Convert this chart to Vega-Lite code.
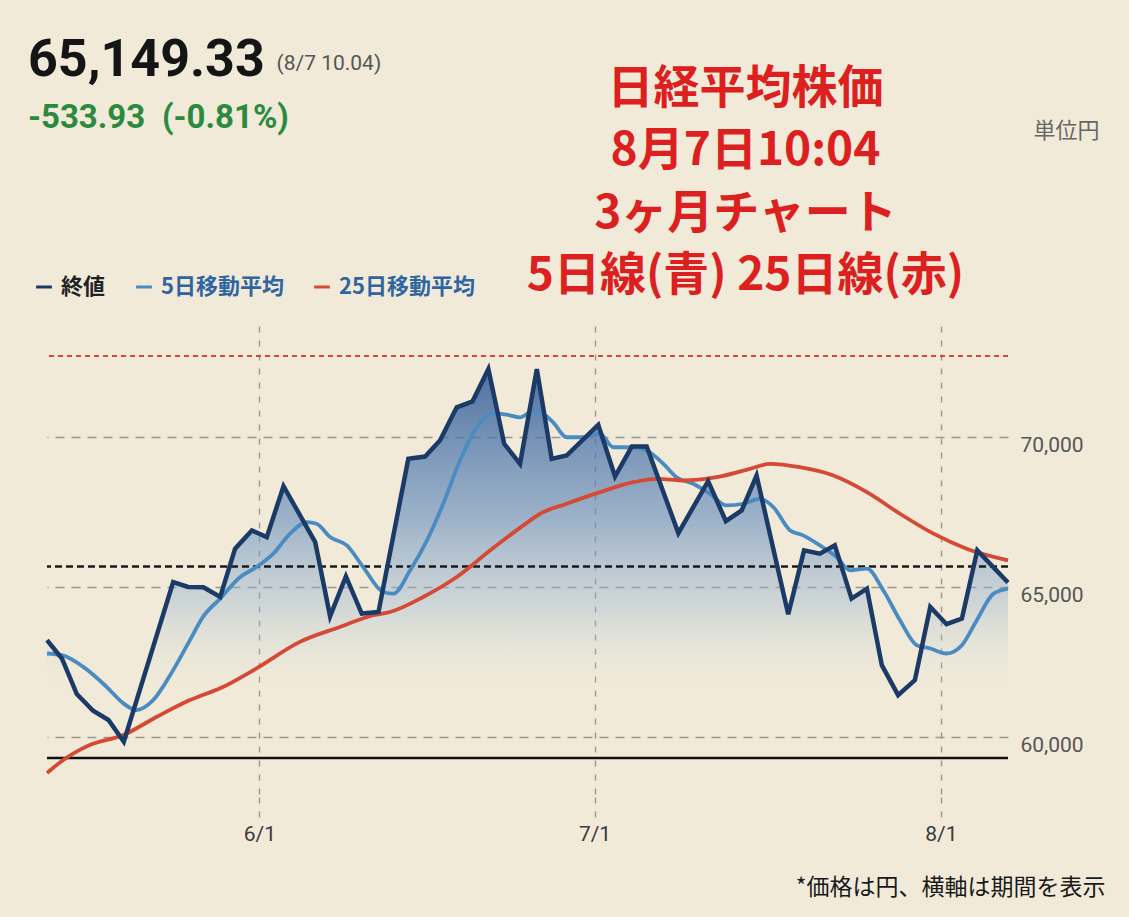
{
  "$schema": "https://vega.github.io/schema/vega-lite/v6.json",
  "width": 961,
  "height": 471,
  "autosize": {"type": "none"},
  "padding": {"left": 47, "top": 326, "right": 121, "bottom": 120},
  "background": "#f1ead9",
  "config": {"view": {"stroke": null}, "font": "Noto Sans CJK JP"},
  "title": {
    "text": "65,149.33",
    "subtitle": "-533.93\u2002(-0.81%)",
    "anchor": "start",
    "frame": "group",
    "font": "Roboto",
    "fontSize": 52,
    "fontWeight": "bold",
    "color": "#151515",
    "subtitleFont": "Roboto",
    "subtitleFontSize": 33,
    "subtitleFontWeight": "bold",
    "subtitleColor": "#2b8a3e",
    "subtitlePadding": 15,
    "offset": 0,
    "dx": -19,
    "dy": 84
  },
  "datasets": {
    "close": [
      {"date": "2025-05-13T00:00", "series": "終値", "price": 63227},
      {"date": "2025-05-14T08:00", "series": "終値", "price": 62618},
      {"date": "2025-05-15T16:00", "series": "終値", "price": 61430},
      {"date": "2025-05-17T03:00", "series": "終値", "price": 60875},
      {"date": "2025-05-18T12:00", "series": "終値", "price": 60565},
      {"date": "2025-05-19T21:00", "series": "終値", "price": 59843},
      {"date": "2025-05-24T07:00", "series": "終値", "price": 65166},
      {"date": "2025-05-25T15:00", "series": "終値", "price": 65000},
      {"date": "2025-05-27T00:00", "series": "終値", "price": 64990},
      {"date": "2025-05-28T12:00", "series": "終値", "price": 64667},
      {"date": "2025-05-29T20:00", "series": "終値", "price": 66278},
      {"date": "2025-05-31T08:00", "series": "終値", "price": 66886},
      {"date": "2025-06-01T16:00", "series": "終値", "price": 66664},
      {"date": "2025-06-03T04:00", "series": "終値", "price": 68360},
      {"date": "2025-06-06T00:00", "series": "終値", "price": 66497},
      {"date": "2025-06-07T08:00", "series": "終値", "price": 64025},
      {"date": "2025-06-08T18:00", "series": "終値", "price": 65356},
      {"date": "2025-06-10T04:00", "series": "終値", "price": 64115},
      {"date": "2025-06-11T16:00", "series": "終値", "price": 64168},
      {"date": "2025-06-14T08:00", "series": "終値", "price": 69272},
      {"date": "2025-06-15T20:00", "series": "終値", "price": 69348},
      {"date": "2025-06-17T04:00", "series": "終値", "price": 69881},
      {"date": "2025-06-18T16:00", "series": "終値", "price": 70989},
      {"date": "2025-06-20T02:00", "series": "終値", "price": 71188},
      {"date": "2025-06-21T12:00", "series": "終値", "price": 72266},
      {"date": "2025-06-22T22:00", "series": "終値", "price": 69771},
      {"date": "2025-06-24T08:00", "series": "終値", "price": 69105},
      {"date": "2025-06-25T20:00", "series": "終値", "price": 72266},
      {"date": "2025-06-27T04:00", "series": "終値", "price": 69272},
      {"date": "2025-06-28T12:00", "series": "終値", "price": 69382},
      {"date": "2025-07-01T08:00", "series": "終値", "price": 70403},
      {"date": "2025-07-02T20:00", "series": "終値", "price": 68683},
      {"date": "2025-07-04T08:00", "series": "終値", "price": 69681},
      {"date": "2025-07-05T16:00", "series": "終値", "price": 69681},
      {"date": "2025-07-08T12:00", "series": "終値", "price": 66797},
      {"date": "2025-07-11T04:00", "series": "終値", "price": 68527},
      {"date": "2025-07-12T18:00", "series": "終値", "price": 67196},
      {"date": "2025-07-14T04:00", "series": "終値", "price": 67552},
      {"date": "2025-07-15T12:00", "series": "終値", "price": 68716},
      {"date": "2025-07-18T08:00", "series": "終値", "price": 64092},
      {"date": "2025-07-19T18:00", "series": "終値", "price": 66221},
      {"date": "2025-07-21T04:00", "series": "終値", "price": 66111},
      {"date": "2025-07-22T12:00", "series": "終値", "price": 66387},
      {"date": "2025-07-24T00:00", "series": "終値", "price": 64614},
      {"date": "2025-07-25T09:00", "series": "終値", "price": 64947},
      {"date": "2025-07-26T17:00", "series": "終値", "price": 62395},
      {"date": "2025-07-28T04:00", "series": "終値", "price": 61397},
      {"date": "2025-07-29T16:00", "series": "終値", "price": 61896},
      {"date": "2025-07-31T01:00", "series": "終値", "price": 64335},
      {"date": "2025-08-01T12:00", "series": "終値", "price": 63759},
      {"date": "2025-08-02T21:00", "series": "終値", "price": 63949},
      {"date": "2025-08-04T06:00", "series": "終値", "price": 66221},
      {"date": "2025-08-07T00:00", "series": "終値", "price": 65149.33}
    ],
    "ma": [
      {"date": "2025-05-13T00:00", "series": "5日移動平均", "price": 62784},
      {"date": "2025-05-14T08:00", "series": "5日移動平均", "price": 62728},
      {"date": "2025-05-16T06:00", "series": "5日移動平均", "price": 62338},
      {"date": "2025-05-18T08:00", "series": "5日移動平均", "price": 61673},
      {"date": "2025-05-19T20:00", "series": "5日移動平均", "price": 61121},
      {"date": "2025-05-21T00:00", "series": "5日移動平均", "price": 60898},
      {"date": "2025-05-22T12:00", "series": "5日移動平均", "price": 61230},
      {"date": "2025-05-24T07:00", "series": "5日移動平均", "price": 62229},
      {"date": "2025-05-25T19:00", "series": "5日移動平均", "price": 63227},
      {"date": "2025-05-26T23:00", "series": "5日移動平均", "price": 64002},
      {"date": "2025-05-28T12:00", "series": "5日移動平均", "price": 64614},
      {"date": "2025-05-30T07:00", "series": "5日移動平均", "price": 65333},
      {"date": "2025-05-31T18:00", "series": "5日移動平均", "price": 65665},
      {"date": "2025-06-02T06:00", "series": "5日移動平均", "price": 66111},
      {"date": "2025-06-03T18:00", "series": "5日移動平均", "price": 66777},
      {"date": "2025-06-05T06:00", "series": "5日移動平均", "price": 67163},
      {"date": "2025-06-06T03:00", "series": "5日移動平均", "price": 67109},
      {"date": "2025-06-07T08:00", "series": "5日移動平均", "price": 66664},
      {"date": "2025-06-08T20:00", "series": "5日移動平均", "price": 66387},
      {"date": "2025-06-10T07:00", "series": "5日移動平均", "price": 65665},
      {"date": "2025-06-12T02:00", "series": "5日移動平均", "price": 64834},
      {"date": "2025-06-13T00:00", "series": "5日移動平均", "price": 64780},
      {"date": "2025-06-14T12:00", "series": "5日移動平均", "price": 65556},
      {"date": "2025-06-16T00:00", "series": "5日移動平均", "price": 66554},
      {"date": "2025-06-17T11:00", "series": "5日移動平均", "price": 67775},
      {"date": "2025-06-18T23:00", "series": "5日移動平均", "price": 69215},
      {"date": "2025-06-20T11:00", "series": "5日移動平均", "price": 70323},
      {"date": "2025-06-21T23:00", "series": "5日移動平均", "price": 70789},
      {"date": "2025-06-23T03:00", "series": "5日移動平均", "price": 70746},
      {"date": "2025-06-24T08:00", "series": "5日移動平均", "price": 70656},
      {"date": "2025-06-25T13:00", "series": "5日移動平均", "price": 70879},
      {"date": "2025-06-26T10:00", "series": "5日移動平均", "price": 70769},
      {"date": "2025-06-27T07:00", "series": "5日移動平均", "price": 70490},
      {"date": "2025-06-28T12:00", "series": "5日移動平均", "price": 69991},
      {"date": "2025-06-30T00:00", "series": "5日移動平均", "price": 69991},
      {"date": "2025-07-01T12:00", "series": "5日移動平均", "price": 70104},
      {"date": "2025-07-02T16:00", "series": "5日移動平均", "price": 69658},
      {"date": "2025-07-04T11:00", "series": "5日移動平均", "price": 69658},
      {"date": "2025-07-05T16:00", "series": "5日移動平均", "price": 69548},
      {"date": "2025-07-07T04:00", "series": "5日移動平均", "price": 69105},
      {"date": "2025-07-08T08:00", "series": "5日移動平均", "price": 68660},
      {"date": "2025-07-09T20:00", "series": "5日移動平均", "price": 68440},
      {"date": "2025-07-11T08:00", "series": "5日移動平均", "price": 68107},
      {"date": "2025-07-12T20:00", "series": "5日移動平均", "price": 67718},
      {"date": "2025-07-14T08:00", "series": "5日移動平均", "price": 67775},
      {"date": "2025-07-15T19:00", "series": "5日移動平均", "price": 67941},
      {"date": "2025-07-17T00:00", "series": "5日移動平均", "price": 67662},
      {"date": "2025-07-18T12:00", "series": "5日移動平均", "price": 66886},
      {"date": "2025-07-19T16:00", "series": "5日移動平均", "price": 66720},
      {"date": "2025-07-21T04:00", "series": "5日移動平均", "price": 66387},
      {"date": "2025-07-22T16:00", "series": "5日移動平均", "price": 65998},
      {"date": "2025-07-23T21:00", "series": "5日移動平均", "price": 65556},
      {"date": "2025-07-25T09:00", "series": "5日移動平均", "price": 65612},
      {"date": "2025-07-26T20:00", "series": "5日移動平均", "price": 64890},
      {"date": "2025-07-28T08:00", "series": "5日移動平均", "price": 63892},
      {"date": "2025-07-29T20:00", "series": "5日移動平均", "price": 63060},
      {"date": "2025-07-31T01:00", "series": "5日移動平均", "price": 62951},
      {"date": "2025-08-01T12:00", "series": "5日移動平均", "price": 62784},
      {"date": "2025-08-02T21:00", "series": "5日移動平均", "price": 63060},
      {"date": "2025-08-04T05:00", "series": "5日移動平均", "price": 63892},
      {"date": "2025-08-05T17:00", "series": "5日移動平均", "price": 64780},
      {"date": "2025-08-07T00:00", "series": "5日移動平均", "price": 64947},
      {"date": "2025-05-13T00:00", "series": "25日移動平均", "price": 58802},
      {"date": "2025-05-14T11:00", "series": "25日移動平均", "price": 59234},
      {"date": "2025-05-15T09:00", "series": "25日移動平均", "price": 59457},
      {"date": "2025-05-16T20:00", "series": "25日移動平均", "price": 59733},
      {"date": "2025-05-19T20:00", "series": "25日移動平均", "price": 60066},
      {"date": "2025-05-22T20:00", "series": "25日移動平均", "price": 60675},
      {"date": "2025-05-25T19:00", "series": "25日移動平均", "price": 61230},
      {"date": "2025-05-28T19:00", "series": "25日移動平均", "price": 61673},
      {"date": "2025-05-31T18:00", "series": "25日移動平均", "price": 62285},
      {"date": "2025-06-04T15:00", "series": "25日移動平均", "price": 63170},
      {"date": "2025-06-08T05:00", "series": "25日移動平均", "price": 63669},
      {"date": "2025-06-11T05:00", "series": "25日移動平均", "price": 64058},
      {"date": "2025-06-12T17:00", "series": "25日移動平均", "price": 64168},
      {"date": "2025-06-15T16:00", "series": "25日移動平均", "price": 64667},
      {"date": "2025-06-18T16:00", "series": "25日移動平均", "price": 65333},
      {"date": "2025-06-21T16:00", "series": "25日移動平均", "price": 66221},
      {"date": "2025-06-24T15:00", "series": "25日移動平均", "price": 67053},
      {"date": "2025-06-26T03:00", "series": "25日移動平均", "price": 67442},
      {"date": "2025-06-28T12:00", "series": "25日移動平均", "price": 67775},
      {"date": "2025-07-01T12:00", "series": "25日移動平均", "price": 68161},
      {"date": "2025-07-04T11:00", "series": "25日移動平均", "price": 68493},
      {"date": "2025-07-06T14:00", "series": "25日移動平均", "price": 68606},
      {"date": "2025-07-08T23:00", "series": "25日移動平均", "price": 68550},
      {"date": "2025-07-11T22:00", "series": "25日移動平均", "price": 68660},
      {"date": "2025-07-14T22:00", "series": "25日移動平均", "price": 68939},
      {"date": "2025-07-16T17:00", "series": "25日移動平均", "price": 69105},
      {"date": "2025-07-19T09:00", "series": "25日移動平均", "price": 68992},
      {"date": "2025-07-22T09:00", "series": "25日移動平均", "price": 68716},
      {"date": "2025-07-25T09:00", "series": "25日移動平均", "price": 68161},
      {"date": "2025-07-28T08:00", "series": "25日移動平均", "price": 67442},
      {"date": "2025-07-31T08:00", "series": "25日移動平均", "price": 66777},
      {"date": "2025-08-03T07:00", "series": "25日移動平均", "price": 66278},
      {"date": "2025-08-07T00:00", "series": "25日移動平均", "price": 65888}
    ],
    "levels": [
      {"level": "高値圏", "price": 72700},
      {"level": "前日終値", "price": 65683.26},
      {"level": "基準線", "price": 59300}
    ]
  },
  "resolve": {"axis": {"x": "independent", "y": "independent"}},
  "layer": [
    {
      "data": {"name": "close"},
      "mark": {
        "type": "area",
        "color": {
          "gradient": "linear",
          "x1": 0, "y1": 0, "x2": 0, "y2": 1,
          "stops": [
            {"offset": 0, "color": "rgba(55,95,152,0.88)"},
            {"offset": 0.35, "color": "rgba(100,140,190,0.6)"},
            {"offset": 0.55, "color": "rgba(150,180,210,0.38)"},
            {"offset": 0.77, "color": "rgba(241,234,217,0)"}
          ]
        }
      },
      "encoding": {
        "x": {
          "field": "date", "type": "temporal",
          "scale": {"domain": [{"year": 2025, "month": 5, "date": 13}, {"year": 2025, "month": 8, "date": 7}]},
          "axis": {
            "orient": "bottom",
            "values": [{"year": 2025, "month": 6, "date": 1}, {"year": 2025, "month": 7, "date": 1}, {"year": 2025, "month": 8, "date": 1}],
            "format": "%-m/%-d",
            "grid": true, "gridDash": [6, 8], "gridColor": "#9d988f", "gridWidth": 1.4,
            "domain": false,
            "ticks": true, "tickSize": 20, "tickDash": [6, 8], "tickColor": "#9d988f", "tickWidth": 1.4,
            "labelFont": "Roboto", "labelFontSize": 21, "labelColor": "#3a3a3a", "labelPadding": 6,
            "title": "*価格は円、横軸は期間を表示",
            "titleFont": "Noto Sans CJK JP", "titleFontSize": 23, "titleFontWeight": "normal", "titleColor": "#1a1a1a",
            "titleX": 1058, "titleY": 90, "titleAlign": "right", "titleBaseline": "middle", "titleAngle": 0
          }
        },
        "y": {
          "field": "price", "type": "quantitative",
          "scale": {"domain": [58000, 73700], "zero": false, "nice": false},
          "axis": {
            "orient": "right",
            "values": [60000, 65000, 70000],
            "format": ",.0f",
            "grid": true, "gridDash": [9, 7], "gridColor": "#9d988f", "gridWidth": 1.5,
            "domain": false, "ticks": false,
            "labelFont": "Roboto", "labelFontSize": 21, "labelColor": "#555555", "labelPadding": 12, "labelOffset": 8,
            "title": "単位円",
            "titleFont": "Noto Sans CJK JP", "titleFontSize": 22, "titleFontWeight": "normal", "titleColor": "#666666",
            "titleAngle": 0, "titleX": 58, "titleY": -196, "titleAlign": "center", "titleBaseline": "middle"
          }
        },
        "y2": {"datum": 58000}
      }
    },
    {
      "data": {"name": "levels"},
      "transform": [{"filter": "datum.level === '高値圏'"}],
      "mark": {"type": "rule", "color": "#d9463f", "strokeDash": [5, 4], "strokeWidth": 1.8},
      "encoding": {"y": {"field": "price", "type": "quantitative", "axis": null}}
    },
    {
      "data": {"name": "levels"},
      "transform": [{"filter": "datum.level === '前日終値'"}],
      "mark": {"type": "rule", "color": "#1a1a1a", "strokeDash": [7, 4], "strokeWidth": 2.5},
      "encoding": {"y": {"field": "price", "type": "quantitative", "axis": null}}
    },
    {
      "data": {"name": "levels"},
      "transform": [{"filter": "datum.level === '基準線'"}],
      "mark": {"type": "rule", "color": "#111111", "strokeWidth": 2.5},
      "encoding": {"y": {"field": "price", "type": "quantitative", "axis": null}}
    },
    {
      "data": {"name": "ma"},
      "mark": {"type": "line", "interpolate": "monotone", "strokeWidth": 3.8},
      "encoding": {
        "x": {"field": "date", "type": "temporal", "axis": null},
        "y": {"field": "price", "type": "quantitative", "axis": null},
        "color": {
          "field": "series", "type": "nominal",
          "scale": {"domain": ["終値", "5日移動平均", "25日移動平均"], "range": ["#1b3a66", "#4a8cc2", "#d44a35"]},
          "legend": {
            "orient": "none", "legendX": -14, "legendY": -50, "direction": "horizontal", "title": null,
            "symbolType": "stroke", "symbolSize": 250, "symbolStrokeWidth": 3,
            "labelFont": "Noto Sans CJK JP", "labelFontSize": 22, "labelFontWeight": "bold",
            "labelColor": {"expr": "datum.label === '終値' ? '#222222' : '#2f65a0'"},
            "labelOffset": 6, "columnPadding": 24
          }
        }
      }
    },
    {
      "data": {"name": "close"},
      "mark": {"type": "line", "strokeWidth": 4.5, "strokeJoin": "miter"},
      "encoding": {
        "x": {
          "field": "date", "type": "temporal",
          "axis": {
            "orient": "top", "labels": false, "ticks": false, "domain": false, "grid": false,
            "title": "(8/7 10.04)",
            "titleFont": "Roboto", "titleFontSize": 21, "titleFontWeight": "normal", "titleColor": "#555555",
            "titleX": 229, "titleY": -263, "titleAlign": "left", "titleBaseline": "middle", "titleAngle": 0
          }
        },
        "y": {
          "field": "price", "type": "quantitative",
          "axis": {
            "orient": "left", "labels": false, "ticks": false, "domain": false, "grid": false,
            "title": ["日経平均株価", "8月7日10:04", "3ヶ月チャート", "5日線(青) 25日線(赤)"],
            "titleFont": "Noto Sans CJK JP", "titleFontSize": 46, "titleFontWeight": "bold", "titleColor": "#dc1f1f",
            "titleLineHeight": 62.5,
            "titleAngle": 0, "titleX": 698, "titleY": -260, "titleAlign": "center", "titleBaseline": "top"
          }
        },
        "color": {
          "field": "series", "type": "nominal",
          "scale": {"domain": ["終値", "5日移動平均", "25日移動平均"], "range": ["#1b3a66", "#4a8cc2", "#d44a35"]}
        }
      }
    }
  ]
}
